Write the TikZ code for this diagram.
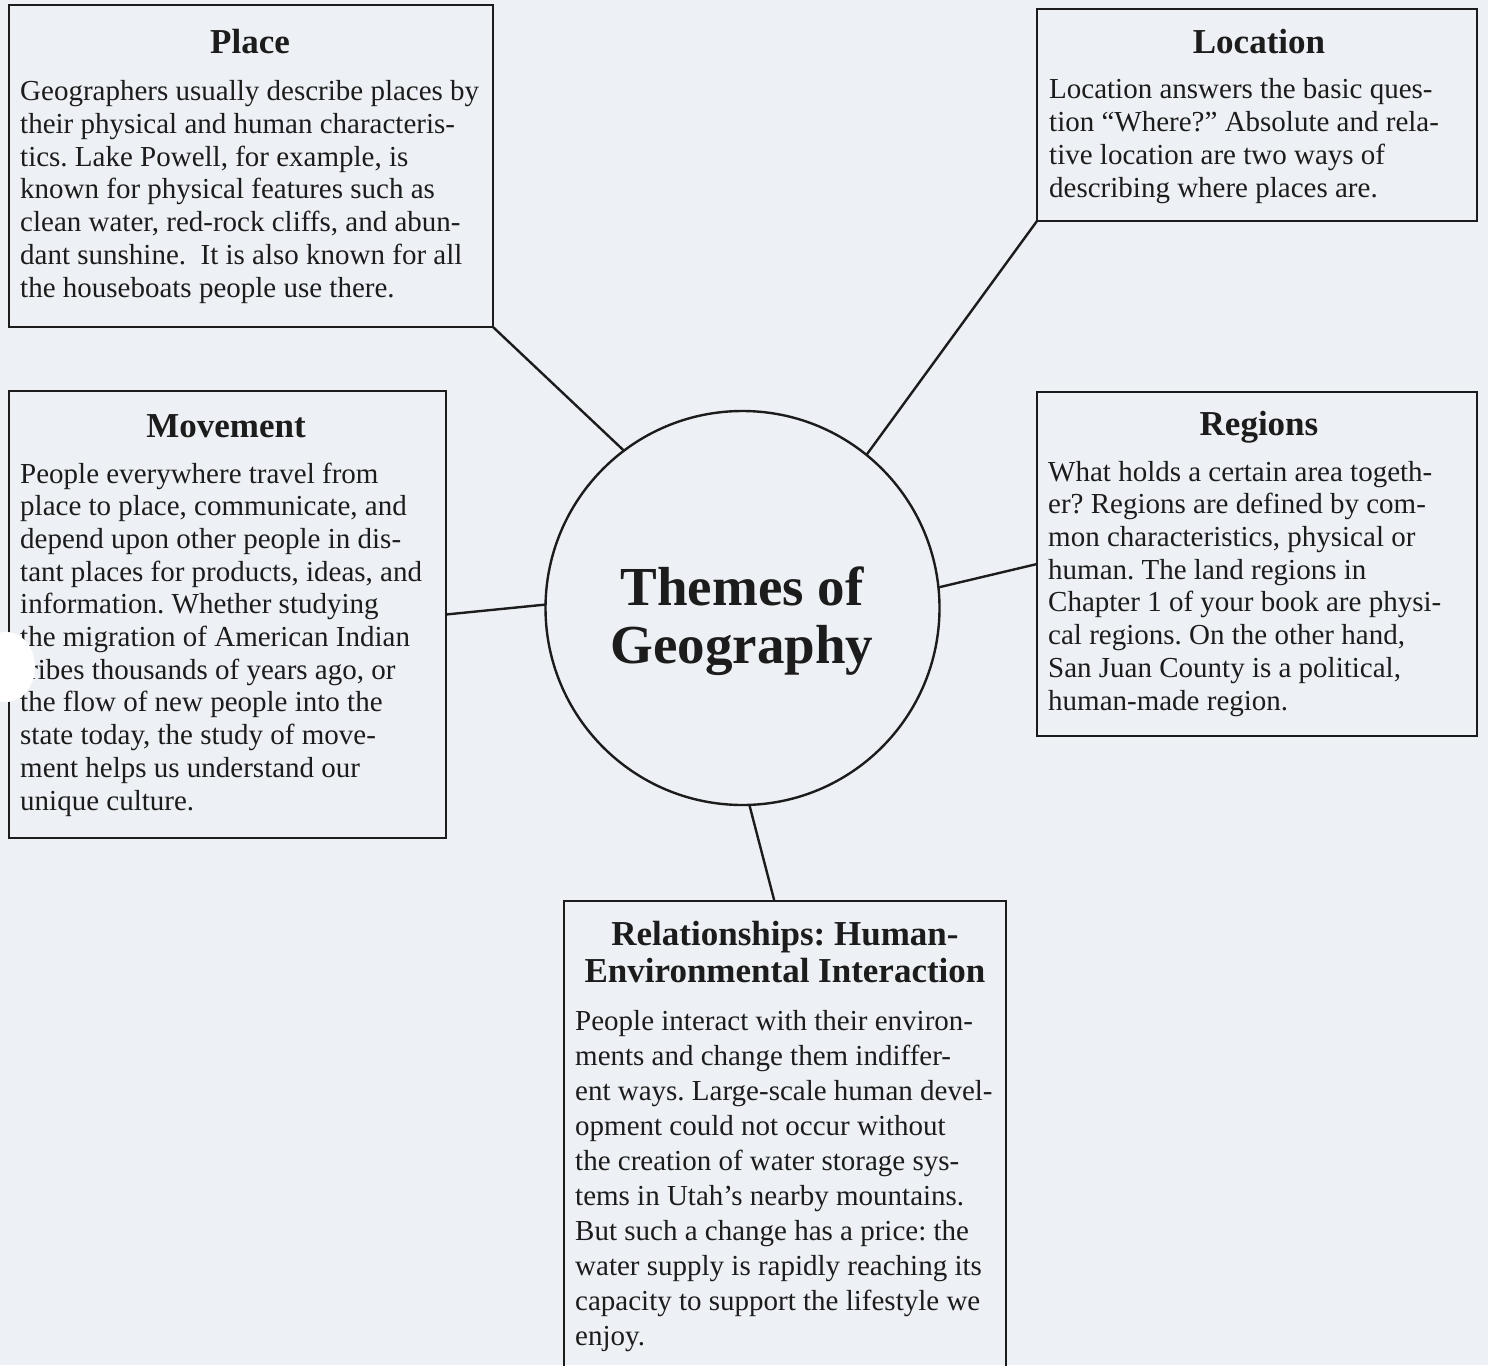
\documentclass[tikz,border=0pt]{standalone}
\usepackage{fontspec}
\setmainfont{Liberation Serif}
\usetikzlibrary{calc}
\definecolor{paper}{RGB}{237,240,244}
\definecolor{ink}{RGB}{28,28,28}
\begin{document}
\frenchspacing
\begin{tikzpicture}[x=1pt,y=-1pt,
  box/.style={draw=ink, line width=2.4pt, rectangle, inner sep=0pt, outer sep=0pt, anchor=north west},
  ttl/.style={font=\fontsize{35}{37}\selectfont\bfseries, text=ink, anchor=base, inner sep=0pt, align=center},
  body/.style={font=\fontsize{29}{32.7}\selectfont, text=ink, anchor=base west, inner sep=0pt, align=left},
  big/.style={font=\fontsize{55}{58}\selectfont\bfseries, text=ink, anchor=base, inner sep=0pt},
  link/.style={draw=ink, line width=2.4pt}]
\fill[paper] (0,0) rectangle (1488,1365);
\useasboundingbox (0,0) rectangle (1488,1365);

% boxes
\node[box, minimum width=484pt, minimum height=322pt] (place) at (9,5) {};
\node[box, minimum width=440pt, minimum height=212pt] (loc) at (1037,9) {};
\node[box, minimum width=437pt, minimum height=447pt] (move) at (9,391) {};
\node[box, minimum width=440pt, minimum height=344pt] (reg) at (1037,392) {};
\node[box, minimum width=442pt, minimum height=490pt] (rel) at (564,901) {};

% central circle
\node[circle, draw=ink, line width=2.4pt, minimum size=394pt, inner sep=0pt, outer sep=0pt] (theme) at (742.5,608) {};
\node[big] (th1) at (742,605) {Themes of};
\node[big] (th2) at (742,663) {Geography};

% titles (anchor = baseline of last line)
\node[ttl] (placeT) at (250,53) {Place};
\node[ttl] (locT) at (1259,53) {Location};
\node[ttl] (moveT) at (226,437) {Movement};
\node[ttl] (regT) at (1259,435) {Regions};
\node[ttl] (relT) at (785,982) {Relationships: Human-\\Environmental Interaction};

% bodies (anchor = baseline of last line)
\node[body] (placeB) at (20,297) {Geographers usually describe places by\\
their physical and human characteris-\\
tics. Lake Powell, for example, is\\
known for physical features such as\\
clean water, red-rock cliffs, and abun-\\
dant sunshine.\ \ It is also known for all\\
the houseboats people use there.};

\node[body] (locB) at (1049,197) {Location answers the basic ques-\\
tion “Where?” Absolute and rela-\\
tive location are two ways of\\
describing where places are.};

\node[body] (moveB) at (20,810) {People everywhere travel from\\
place to place, communicate, and\\
depend upon other people in dis-\\
tant places for products, ideas, and\\
information. Whether studying\\
the migration of American Indian\\
tribes thousands of years ago, or\\
the flow of new people into the\\
state today, the study of move-\\
ment helps us understand our\\
unique culture.};

\node[body] (regB) at (1048,710) {What holds a certain area togeth-\\
er? Regions are defined by com-\\
mon characteristics, physical or\\
human. The land regions in\\
Chapter 1 of your book are physi-\\
cal regions. On the other hand,\\
San Juan County is a political,\\
human-made region.};

\node[body, font=\fontsize{29}{35}\selectfont] (relB) at (575,1345) {People interact with their environ-\\
ments and change them indiffer-\\
ent ways. Large-scale human devel-\\
opment could not occur without\\
the creation of water storage sys-\\
tems in Utah’s nearby mountains.\\
But such a change has a price: the\\
water supply is rapidly reaching its\\
capacity to support the lifestyle we\\
enjoy.};

% connectors
\coordinate (relTop) at ($(rel.north west)!0.476!(rel.north east)$);
\draw[link] (place.south east) -- (theme.127.7);
\draw[link] (loc.south west) -- (theme.51.6);
\draw[link] (move.east) -- (theme.179.7);
\draw[link] (reg.west) -- (theme.6.7);
\draw[link] (relTop) -- (theme.272.2);

% punch hole in the scan
\fill[white] (6,667) ellipse (29pt and 35pt);
\end{tikzpicture}
\end{document}
